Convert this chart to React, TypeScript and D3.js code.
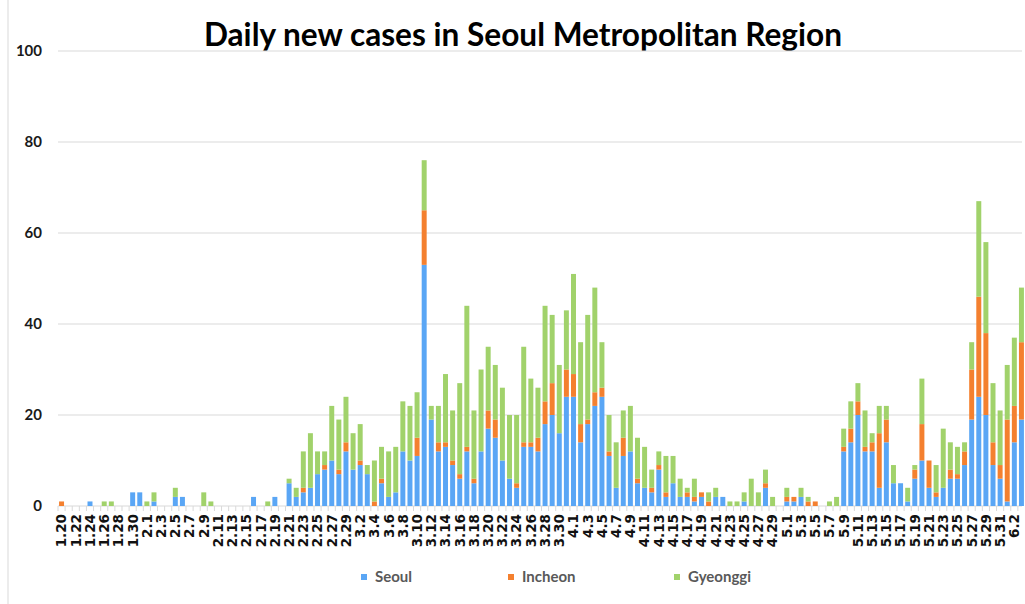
import React from 'react';
import * as d3 from 'd3';

// day-by-day counts, 1.20 .. 6.3
const startDay = new Date(2020, 0, 20);
const endDay = new Date(2020, 5, 4);
const days = d3.timeDay.range(startDay, endDay).map(d => `${d.getMonth() + 1}.${d.getDate()}`);

const seoul = [
    0, 0, 0, 0, 1, 0, 0, 0, 0, 0,
    3, 3, 0, 1, 0, 0, 2, 2, 0, 0,
    0, 0, 0, 0, 0, 0, 0, 2, 0, 0,
    2, 0, 5, 2, 3, 4, 7, 8, 10, 7,
    12, 8, 9, 7, 0, 5, 2, 3, 12, 10,
    11, 53, 19, 12, 13, 9, 6, 12, 5, 12,
    17, 15, 10, 6, 4, 13, 13, 12, 18, 20,
    16, 24, 24, 14, 18, 22, 24, 11, 4, 11,
    12, 5, 4, 3, 8, 2, 5, 2, 2, 1,
    2, 0, 2, 2, 0, 0, 1, 0, 0, 4,
    0, 0, 1, 1, 2, 0, 0, 0, 0, 0,
    12, 14, 20, 12, 12, 4, 14, 5, 5, 1,
    6, 10, 4, 2, 4, 6, 6, 9, 19, 24,
    20, 9, 6, 1, 14, 19,
];

const incheon = [
    1, 0, 0, 0, 0, 0, 0, 0, 0, 0,
    0, 0, 0, 0, 0, 0, 0, 0, 0, 0,
    0, 0, 0, 0, 0, 0, 0, 0, 0, 0,
    0, 0, 0, 0, 1, 0, 0, 1, 0, 1,
    2, 0, 1, 0, 1, 1, 0, 0, 0, 0,
    4, 12, 0, 2, 1, 1, 1, 1, 1, 0,
    4, 4, 0, 0, 1, 1, 1, 3, 5, 7,
    0, 6, 5, 4, 1, 3, 2, 1, 0, 4,
    0, 1, 0, 1, 1, 1, 0, 0, 1, 1,
    1, 1, 0, 0, 0, 0, 0, 0, 0, 1,
    0, 0, 1, 1, 0, 1, 1, 0, 0, 0,
    1, 3, 3, 1, 2, 12, 5, 0, 0, 0,
    2, 8, 6, 1, 0, 2, 1, 3, 11, 22,
    18, 5, 3, 18, 8, 17,
];

const gyeonggi = [
    0, 0, 0, 0, 0, 0, 1, 1, 0, 0,
    0, 0, 1, 2, 0, 0, 2, 0, 0, 0,
    3, 1, 0, 0, 0, 0, 0, 0, 0, 1,
    0, 0, 1, 2, 8, 12, 5, 3, 12, 11,
    10, 8, 8, 2, 9, 7, 10, 10, 11, 12,
    10, 11, 3, 8, 15, 11, 20, 31, 15, 18,
    14, 12, 16, 14, 15, 21, 14, 11, 21, 15,
    15, 13, 22, 18, 23, 23, 10, 8, 10, 6,
    10, 9, 9, 4, 3, 8, 6, 4, 1, 4,
    0, 2, 2, 0, 1, 1, 2, 6, 3, 3,
    2, 0, 2, 0, 2, 1, 0, 0, 1, 2,
    4, 6, 4, 8, 2, 6, 3, 4, 0, 3,
    1, 10, 0, 6, 13, 6, 6, 2, 6, 21,
    20, 13, 12, 12, 15, 12,
];

const seriesNames = ['Seoul', 'Incheon', 'Gyeonggi'];
const seriesColors = ['#5aa6f5', '#f4802f', '#a1d26b'];
const yTicks = [0, 20, 40, 60, 80, 100];

const W = 1025;
const H = 604;
const margin = { top: 51, right: 0, bottom: 98, left: 58 };

const App: React.FC = () => {
    const rows = days.map((d, i) => ({ day: d, Seoul: seoul[i], Incheon: incheon[i], Gyeonggi: gyeonggi[i] }));
    const stacked = d3.stack<any>().keys(seriesNames)(rows);

    const x = d3.scaleBand<string>()
        .domain(days)
        .range([margin.left, W - margin.right])
        .paddingInner(0.3)
        .paddingOuter(0.15);

    const y = d3.scaleLinear()
        .domain([0, 100])
        .range([H - margin.bottom, margin.top]);

    const y0 = y(0);
    const step = x.step();
    const tickLabels = days.filter((_, i) => i % 2 === 0);

    return (
        <svg width={W} height={H} style={{ position: 'absolute', left: 0, top: 0, background: '#fff' }}>
            <line x1={8} x2={8} y1={0} y2={H} stroke="#d9d9d9" />

            <text x={523} y={46} textAnchor="middle" fontFamily="Lato" fontWeight={700} fontSize={31.6} fill="#000">
                Daily new cases in Seoul Metropolitan Region
            </text>

            {/* gridlines + y labels */}
            {yTicks.map(t => (
                <g key={t}>
                    <line x1={margin.left} x2={1022} y1={y(t)} y2={y(t)} stroke="#d9d9d9" />
                    <text x={42} y={y(t)} dy="0.35em" textAnchor="end" fontFamily="Lato" fontWeight={700} fontSize={15} fill="#1a1a1a">
                        {t}
                    </text>
                </g>
            ))}

            {/* category ticks */}
            {days.map(d => (
                <line key={'t' + d} x1={(x(d) as number) - (step - x.bandwidth()) / 2} x2={(x(d) as number) - (step - x.bandwidth()) / 2}
                    y1={y0} y2={y0 + 5} stroke="#d9d9d9" />
            ))}

            {/* bars */}
            {stacked.map((s, si) => (
                <g key={s.key} fill={seriesColors[si]}>
                    {s.map((p, i) => (
                        p[1] - p[0] > 0 ? (
                            <rect key={i} x={x(days[i])} width={x.bandwidth()} y={y(p[1])} height={y(p[0]) - y(p[1])} />
                        ) : null
                    ))}
                </g>
            ))}

            {/* x labels */}
            {tickLabels.map(d => {
                const cx = (x(d) as number) + x.bandwidth() / 2;
                return (
                    <text key={'l' + d} transform={`translate(${cx},${y0 + 8}) rotate(-90)`} dy="0.36em" textAnchor="end"
                        fontFamily="DejaVu Sans" fontWeight={700} fontSize={13.5} fill="#111">
                        {d}
                    </text>
                );
            })}

            {/* legend */}
            {seriesNames.map((n, i) => {
                const lx = [361, 508, 674][i];
                return (
                    <g key={n}>
                        <rect x={lx} y={574} width={6} height={6} fill={seriesColors[i]} />
                        <text x={lx + 14} y={577} dy="0.35em" fontFamily="Lato" fontWeight={700} fontSize={15} fill="#595959">{n}</text>
                    </g>
                );
            })}
        </svg>
    );
};

export default App;
